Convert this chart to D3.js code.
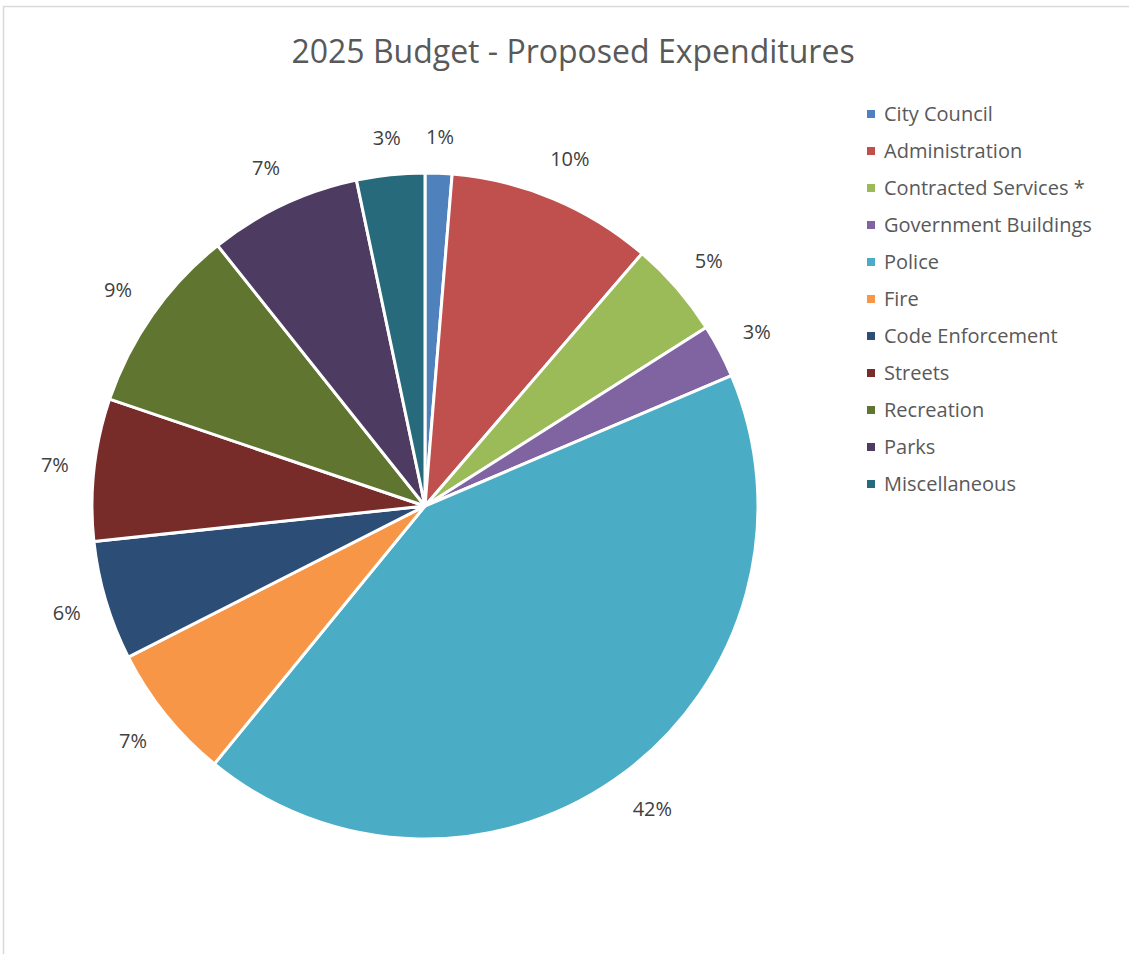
<!DOCTYPE html>
<html><head><meta charset="utf-8">
<script src="https://cdn.jsdelivr.net/npm/d3@7"></script>
<style>body{margin:0;background:#fff}svg{display:block}</style>
</head><body>
<svg id="c" width="1129" height="954"></svg>
<script>
const categories = ["City Council","Administration","Contracted Services *","Government Buildings","Police","Fire","Code Enforcement","Streets","Recreation","Parks","Miscellaneous"];
const values = [1.3,10.0,4.7,2.6,42.3,6.6,5.8,6.9,9.1,7.4,3.3];
const colors = ["#4F81BD","#C0504D","#9BBB59","#8064A2","#4BACC6","#F79646","#2C4D75","#772C2A","#5F7530","#4D3B62","#276A7C"];
const title = "2025 Budget - Proposed Expenditures";

const svg = d3.select("#c");
const font = "'Open Sans', 'Noto Sans', sans-serif";
// frame
svg.append("path").attr("d","M3.5,954 L3.5,6.5 L1129,6.5").attr("fill","none").attr("stroke","#d9d9d9").attr("stroke-width",1.5);

svg.append("text").attr("x",573).attr("y",63).attr("text-anchor","middle")
  .attr("font-family",font).attr("font-size",32).attr("fill","#595959").text(title);

const cx=425, cy=506, R=333;
const data = categories.map((c,i)=>({name:c,value:values[i],color:colors[i]}));
const total = d3.sum(values);
const pie = d3.pie().value(d=>d.value).sort(null);
const arcs = pie(data);
const arc = d3.arc().innerRadius(0).outerRadius(R);
const g = svg.append("g").attr("transform",`translate(${cx},${cy})`);
g.selectAll("path").data(arcs).join("path").attr("d",arc).attr("fill",d=>d.data.color)
  .attr("stroke","#fff").attr("stroke-width",3).attr("stroke-linejoin","round");

g.selectAll("text.lbl").data(arcs).join("text").attr("class","lbl")
  .each(function(d){
    const a=(d.startAngle+d.endAngle)/2;
    const txt=Math.round(d.data.value/total*100)+"%";
    const hw = txt.length*6.6, hh=11;
    const s=Math.sin(a), c=-Math.cos(a);
    const r = R + 25 + Math.abs(s)*hw + Math.abs(c)*hh;
    d3.select(this).attr("x",r*s).attr("y",r*c).attr("dy","0.35em").text(txt);
  })
  .attr("text-anchor","middle").attr("font-family",font).attr("font-size",20).attr("fill","#404040");

const lg = svg.append("g");
const rows = lg.selectAll("g").data(data).join("g").attr("transform",(d,i)=>`translate(867,${114+i*37})`);
rows.append("rect").attr("x",0).attr("y",-4).attr("width",8).attr("height",8).attr("fill",d=>d.color);
rows.append("text").attr("x",17).attr("dy","0.35em").attr("font-family",font).attr("font-size",20).attr("fill","#595959").text(d=>d.name);
</script>
</body></html>
